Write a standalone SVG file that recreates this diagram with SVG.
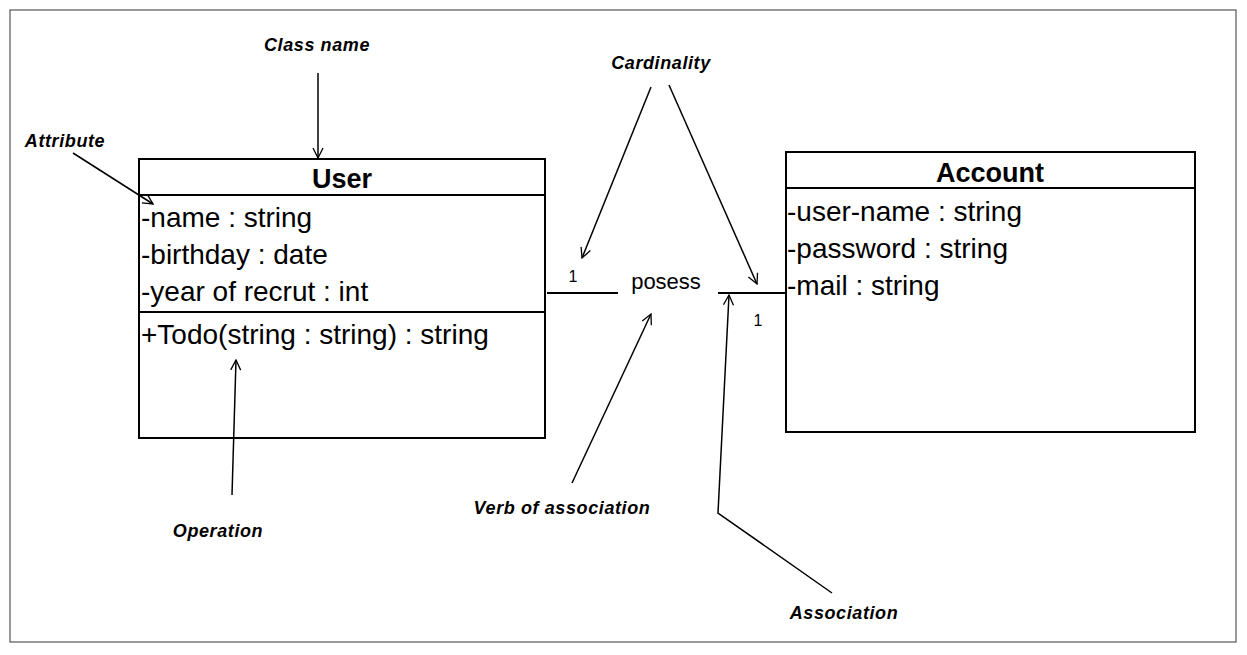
<svg xmlns="http://www.w3.org/2000/svg" width="1247" height="655" viewBox="0 0 1247 655">
<defs>
<marker id="arr" viewBox="0 0 12 12" refX="11" refY="6" markerWidth="12" markerHeight="12" markerUnits="userSpaceOnUse" orient="auto">
<path d="M1,1 L11,6 L1,11" fill="none" stroke="#000" stroke-width="1.3"/>
</marker>
<style>
.box{fill:#fff;stroke:#000;stroke-width:2}
.div{stroke:#000;stroke-width:2}
.t{font-family:"Liberation Sans",Arial,sans-serif;font-size:28px;fill:#000}
.h{font-family:"Liberation Sans",Arial,sans-serif;font-size:27px;font-weight:bold;fill:#000}
.lbl{font-family:"Liberation Sans",Arial,sans-serif;font-size:18px;font-weight:bold;font-style:italic;fill:#000;letter-spacing:0.6px}
.ptr{fill:none;stroke:#000;stroke-width:1.5;marker-end:url(#arr)}
.assoc{fill:none;stroke:#000;stroke-width:2}
.small{font-family:"Liberation Sans",Arial,sans-serif;font-size:16px;fill:#000}
.verb{font-family:"Liberation Sans",Arial,sans-serif;font-size:22px;fill:#000}
</style>
</defs>
<rect x="0" y="0" width="1247" height="655" fill="#fff"/>
<rect x="10" y="10" width="1226" height="632" fill="none" stroke="#555" stroke-width="1.2"/>

<g id="user">
<rect class="box" x="139" y="159" width="406" height="279"/>
<line class="div" x1="139" y1="195" x2="545" y2="195"/>
<line class="div" x1="139" y1="312" x2="545" y2="312"/>
<text class="h" x="342" y="188" text-anchor="middle">User</text>
<text class="t" x="141" y="227">-name : string</text>
<text class="t" x="141" y="264">-birthday : date</text>
<text class="t" x="141" y="301">-year of recrut : int</text>
<text class="t" x="141" y="344">+Todo(string : string) : string</text>
</g>

<g id="account">
<rect class="box" x="786" y="152" width="409" height="280"/>
<line class="div" x1="786" y1="188" x2="1195" y2="188"/>
<text class="h" x="990" y="182" text-anchor="middle">Account</text>
<text class="t" x="787" y="221">-user-name : string</text>
<text class="t" x="787" y="258">-password : string</text>
<text class="t" x="787" y="295">-mail : string</text>
</g>

<g id="association">
<line class="assoc" x1="547" y1="293" x2="618" y2="293"/>
<line class="assoc" x1="718" y1="293" x2="786" y2="293"/>
<text class="small" x="573" y="282" text-anchor="middle">1</text>
<text class="verb" x="666" y="289" text-anchor="middle">posess</text>
<text class="small" x="758" y="326" text-anchor="middle">1</text>
</g>

<g id="annotations">
<text class="lbl" x="317" y="51" text-anchor="middle">Class name</text>
<text class="lbl" x="65" y="147" text-anchor="middle">Attribute</text>
<text class="lbl" x="218" y="537" text-anchor="middle">Operation</text>
<text class="lbl" x="661" y="69" text-anchor="middle">Cardinality</text>
<text class="lbl" x="562" y="514" text-anchor="middle">Verb of association</text>
<text class="lbl" x="844" y="619" text-anchor="middle">Association</text>
</g>

<g id="connectors">
<line class="ptr" x1="318" y1="73" x2="318" y2="158"/>
<line class="ptr" x1="73" y1="153" x2="153" y2="204"/>
<line class="ptr" x1="232" y1="495" x2="236" y2="360"/>
<line class="ptr" x1="651" y1="87" x2="582" y2="258"/>
<line class="ptr" x1="669" y1="85" x2="757" y2="284"/>
<line class="ptr" x1="572" y1="483" x2="651" y2="314"/>
<polyline class="ptr" points="832,593 718,513 729,295"/>
</g>
</svg>
